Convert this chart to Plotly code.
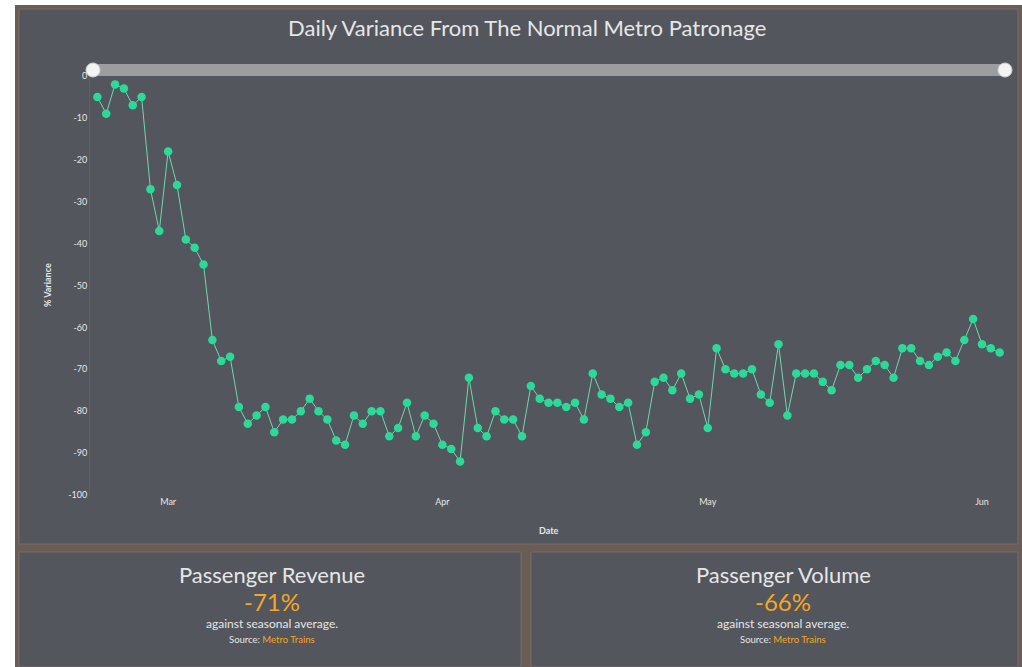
import plotly.graph_objects as go
import pandas as pd

# ---- data ----
start_date = "2020-02-22"
variance = [
    -5, -9, -2, -3, -7, -5, -27, -37, -18, -26, -39, -41, -45,
    -63, -68, -67, -79, -83, -81, -79, -85, -82, -82, -80, -77, -80, -82, -87, -88, -81, -83,
    -80, -80, -86, -84, -78, -86, -81, -83, -88, -89, -92, -72, -84, -86, -80,
    -82, -82, -86, -74, -77, -78, -78, -79, -78, -82, -71, -76, -77, -79, -78, -88, -85,
    -73, -72, -75, -71, -77, -76, -84, -65, -70, -71, -71, -70, -76, -78, -64,
    -81, -71, -71, -71, -73, -75, -69, -69, -72, -70, -68, -69, -72, -65, -65, -68, -69,
    -67, -66, -68, -63, -58, -64, -65, -66,
]
dates = pd.date_range(start_date, periods=len(variance), freq="D")
y_ticks = [0, -10, -20, -30, -40, -50, -60, -70, -80, -90, -100]
y_tick_labels = [str(v) for v in y_ticks]
title_text = "Daily Variance From The Normal Metro Patronage"
kpi_titles = ["Passenger Revenue", "Passenger Volume"]
kpi_values = ["-71%", "-66%"]
kpi_sub = "against seasonal average."
kpi_source = "Metro Trains"

W, H = 1022, 667
def px(x):
    return x / W
def py(y):
    return 1 - y / H

FONT = "Lato"
PANEL = "#53565d"
FRAME = "#6a5d55"
GREEN = "#2bd998"
LINE = "#6fd8b0"
ORANGE = "#f5a623"
TXT = "#e6e6e6"

fig = go.Figure()
fig.add_trace(go.Scatter(
    x=dates, y=variance, mode="lines+markers",
    line=dict(color=LINE, width=1),
    marker=dict(color=GREEN, size=8.5),
    hoverinfo="x+y", showlegend=False,
))

shapes = []
shapes.append(dict(type="rect", xref="paper", yref="paper", layer="below",
                   x0=px(15), x1=px(1022), y0=py(667), y1=py(5),
                   fillcolor=FRAME, line=dict(width=0)))
shapes.append(dict(type="rect", xref="paper", yref="paper", layer="below",
                   x0=px(19), x1=px(1018), y0=py(544), y1=py(9),
                   fillcolor=PANEL, line=dict(color="#7a6d65", width=1)))
shapes.append(dict(type="rect", xref="paper", yref="paper", layer="below",
                   x0=px(19), x1=px(521), y0=py(667), y1=py(552),
                   fillcolor=PANEL, line=dict(color="#7a6d65", width=1)))
shapes.append(dict(type="rect", xref="paper", yref="paper", layer="below",
                   x0=px(531), x1=px(1018), y0=py(667), y1=py(552),
                   fillcolor=PANEL, line=dict(color="#7a6d65", width=1)))
# slider bar
shapes.append(dict(type="rect", xref="paper", yref="paper",
                   x0=px(93), x1=px(1005), y0=py(76), y1=py(64),
                   fillcolor="#9c9d9f", line=dict(width=0)))
for cx in (93, 1005):
    shapes.append(dict(type="circle", xref="paper", yref="paper",
                       x0=px(cx - 7), x1=px(cx + 7), y0=py(77), y1=py(63),
                       fillcolor="#f4f4f4", line=dict(color="#d0d0d0", width=1)))

def ann(text, x, y, size, color=TXT, **kw):
    return dict(text=text, x=px(x), y=py(y), xref="paper", yref="paper",
                xanchor="center", yanchor="middle", showarrow=False,
                font=dict(family=FONT, size=size, color=color), **kw)

annotations = [
    ann(title_text, 527, 28, 22),
    ann("<b>% Variance</b>", 47, 285, 9, textangle=-90),
    ann("<b>Date</b>", 549, 530, 9),
]
for i, cx in enumerate((272, 783)):
    annotations += [
        ann(kpi_titles[i], cx, 574, 22),
        ann(kpi_values[i], cx, 601, 24, ORANGE),
        ann(kpi_sub, cx, 623, 12),
        ann("Source: <span style='color:%s'>%s</span>" % (ORANGE, kpi_source), cx, 639, 9.5),
    ]

fig.update_layout(
    width=W, height=H, autosize=False,
    margin=dict(l=0, r=0, t=0, b=0),
    paper_bgcolor="white", plot_bgcolor="rgba(0,0,0,0)",
    shapes=shapes, annotations=annotations,
    font=dict(family=FONT, color=TXT),
    xaxis=dict(domain=[px(90), px(1010)],
               range=["2020-02-21 04:00", "2020-06-04 04:00"],
               tick0="2020-03-01", dtick="M1", tickformat="%b",
               showgrid=False, zeroline=False, showline=False, ticks="",
               tickfont=dict(family=FONT, size=9, color=TXT), automargin=False),
    yaxis=dict(domain=[py(495), py(76)], range=[-100, 0],
               tickvals=y_ticks, ticktext=y_tick_labels,
               showgrid=False, zeroline=False,
               showline=True, linecolor="#5c5f66", linewidth=1, ticks="",
               tickfont=dict(family=FONT, size=9, color=TXT), automargin=False),
)

fig.write_html("out.html", config={"displayModeBar": False},
               post_script="document.body.style.margin='0';")
